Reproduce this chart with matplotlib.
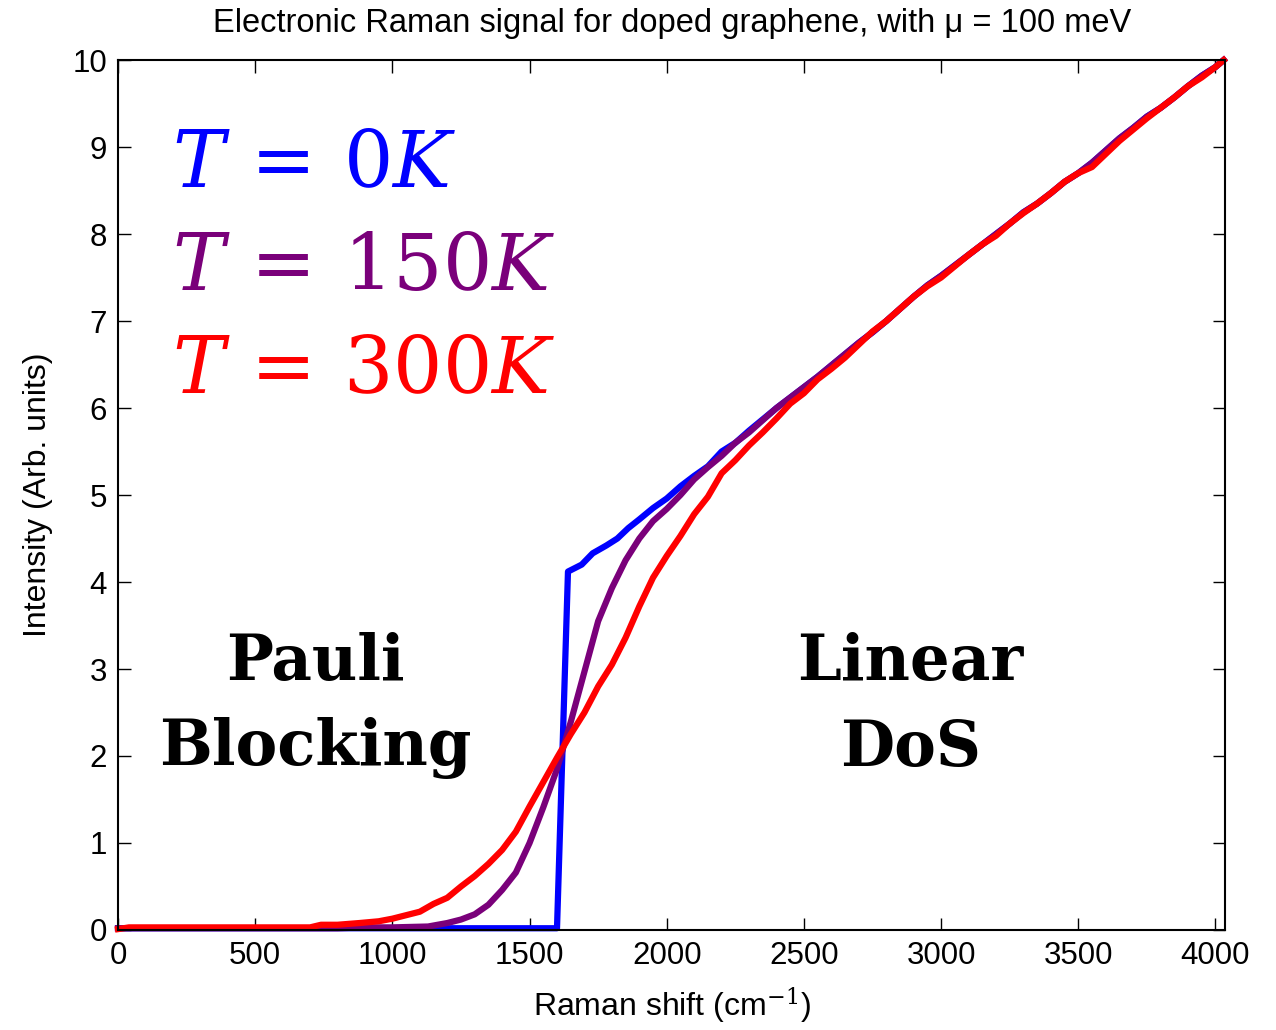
import matplotlib
matplotlib.use("Agg")
import matplotlib.pyplot as plt

# Raman shift (cm^-1) and intensity
x_t0 = [0, 1600, 1640, 1690, 1730, 1780, 1820, 1860, 1900, 1950, 2000, 2050,
        2100, 2150, 2200, 2250, 2300, 2350, 2400, 2450, 2500, 2550, 2600,
        2650, 2700, 2750, 2800, 2850, 2900, 2950, 3000, 3050, 3100, 3150,
        3200, 3250, 3300, 3350, 3400, 3450, 3500, 3550, 3600, 3650, 3700,
        3750, 3800, 3850, 3900, 3950, 4000, 4030]
y_t0 = [0.02, 0.02, 4.12, 4.20, 4.33, 4.42, 4.50, 4.62, 4.72, 4.85, 4.96, 5.10,
        5.22, 5.33, 5.50, 5.60, 5.74, 5.87, 6.00, 6.12, 6.24, 6.36, 6.49,
        6.62, 6.75, 6.87, 7.00, 7.14, 7.28, 7.41, 7.52, 7.64, 7.76, 7.88,
        8.00, 8.12, 8.25, 8.35, 8.47, 8.60, 8.70, 8.82, 8.96, 9.10, 9.22,
        9.35, 9.45, 9.57, 9.70, 9.82, 9.92, 10.0]

x_t150 = [0, 800, 900, 1000, 1130, 1200, 1250, 1300, 1350, 1400, 1450, 1500,
          1550, 1600, 1650, 1700, 1750, 1800, 1850, 1900, 1950, 2000, 2050,
          2100, 2150, 2200, 2250, 2300, 2350, 2400, 2450, 2500, 2550, 2600,
          2650, 2700, 2750, 2800, 2850, 2900, 2950, 3000, 3050, 3100, 3150,
          3200, 3250, 3300, 3350, 3400, 3450, 3500, 3550, 3600, 3650, 3700,
          3750, 3800, 3850, 3900, 3950, 4000, 4030]
y_t150 = [0.02, 0.02, 0.03, 0.03, 0.04, 0.08, 0.12, 0.18, 0.29, 0.46, 0.66, 1.00,
          1.41, 1.85, 2.39, 2.97, 3.55, 3.93, 4.25, 4.50, 4.70, 4.84, 5.00,
          5.18, 5.32, 5.45, 5.60, 5.72, 5.86, 6.00, 6.12, 6.24, 6.36, 6.49,
          6.62, 6.75, 6.87, 7.00, 7.14, 7.28, 7.41, 7.52, 7.64, 7.76, 7.88,
          8.00, 8.12, 8.25, 8.35, 8.47, 8.60, 8.70, 8.82, 8.96, 9.10, 9.22,
          9.35, 9.45, 9.57, 9.70, 9.82, 9.92, 10.0]

x_t300 = [0, 40, 700, 740, 800, 880, 950, 1000, 1050, 1100, 1150, 1200, 1250,
          1300, 1350, 1400, 1450, 1500, 1550, 1600, 1650, 1700, 1750, 1800,
          1850, 1900, 1950, 2000, 2050, 2100, 2150, 2200, 2250, 2300, 2350,
          2400, 2450, 2500, 2550, 2600, 2650, 2700, 2750, 2800, 2850, 2900,
          2950, 3000, 3050, 3100, 3150, 3200, 3250, 3300, 3350, 3400, 3450,
          3500, 3550, 3600, 3650, 3700, 3750, 3800, 3850, 3900, 3950, 4000,
          4030]
y_t300 = [0.01, 0.03, 0.03, 0.06, 0.06, 0.08, 0.10, 0.13, 0.17, 0.21, 0.30, 0.37,
          0.50, 0.62, 0.76, 0.92, 1.13, 1.42, 1.70, 1.98, 2.25, 2.50, 2.80,
          3.05, 3.36, 3.72, 4.05, 4.30, 4.53, 4.78, 4.98, 5.25, 5.40, 5.57,
          5.72, 5.88, 6.05, 6.17, 6.33, 6.45, 6.58, 6.73, 6.88, 7.00, 7.14,
          7.28, 7.40, 7.50, 7.63, 7.76, 7.88, 7.98, 8.12, 8.24, 8.35, 8.47,
          8.60, 8.70, 8.77, 8.92, 9.07, 9.20, 9.33, 9.45, 9.57, 9.70, 9.80,
          9.92, 10.0]

x_ticks = [0, 500, 1000, 1500, 2000, 2500, 3000, 3500, 4000]
y_ticks = list(range(0, 11))

plt.rcParams["font.family"] = ["Liberation Sans", "DejaVu Sans"]
plt.rcParams["mathtext.fontset"] = "dejavuserif"

fig = plt.figure(figsize=(12.76, 10.30), dpi=100)
ax = fig.add_axes([0.0925, 0.0971, 0.8678, 0.8446])

ax.plot(x_t0, y_t0, color="#0000ff", lw=4.5, clip_on=False)
ax.plot(x_t150, y_t150, color="#7a007a", lw=4.5, clip_on=False)
ax.plot(x_t300, y_t300, color="#ff0000", lw=4.5, clip_on=False)

ax.set_xlim(0, 4036)
ax.set_ylim(0, 10)
ax.set_xticks(x_ticks)
ax.set_yticks(y_ticks)
ax.tick_params(direction="in", length=9, width=1, labelsize=22.5,
               top=True, right=True, pad=8)
for s in ax.spines.values():
    s.set_linewidth(1.5)

ax.set_title("Electronic Raman signal for doped graphene, with μ = 100 meV",
             fontsize=23.5, pad=20)
ax.set_xlabel("Raman shift (cm$^{-1}$)", fontsize=23, labelpad=11)
ax.set_ylabel("Intensity (Arb. units)", fontsize=23, labelpad=14)

# temperature labels
ax.text(197, 8.54, r"$T\,=\,0K$", color="#0000ff", fontsize=56)
ax.text(197, 7.36, r"$T\,=\,150K$", color="#7a007a", fontsize=56)
ax.text(197, 6.17, r"$T\,=\,300K$", color="#ff0000", fontsize=56)

# region annotations
bold = dict(family="DejaVu Serif", fontweight="bold", fontsize=45,
            ha="center", va="baseline")
ax.text(718, 2.87, "Pauli", **bold)
ax.text(718, 1.90, "Blocking", **bold)
ax.text(2888, 2.87, "Linear", **bold)
ax.text(2888, 1.88, "DoS", **bold)

fig.savefig("out.png", dpi=100)
